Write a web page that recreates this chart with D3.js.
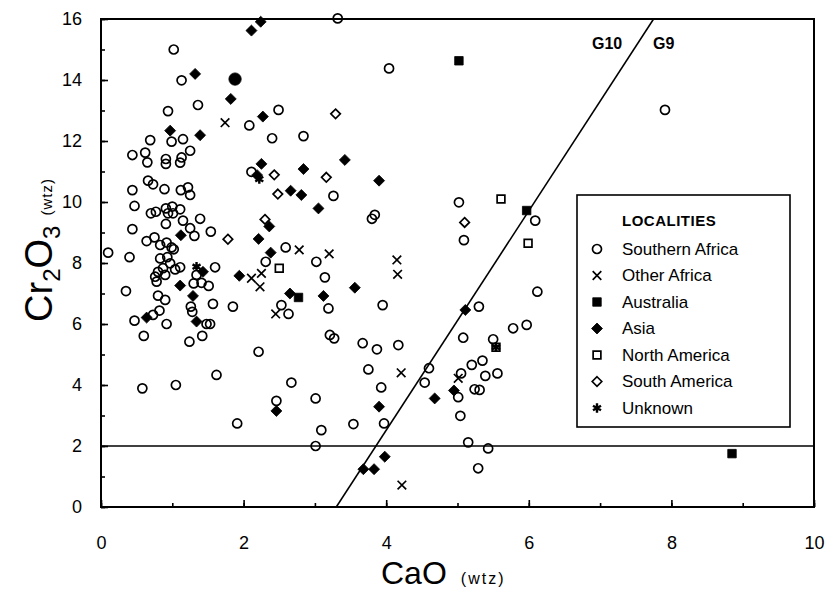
<!DOCTYPE html>
<html>
<head>
<meta charset="utf-8">
<script src="https://cdn.jsdelivr.net/npm/d3@7"></script>
<style>
  body { margin: 0; background: #fff; }
  text { font-family: "Liberation Sans", Arial, sans-serif; fill: #000; }
</style>
</head>
<body>
<svg id="chart" width="827" height="593"></svg>
<script>

/////////////////////
// Data (CaO wt%, Cr2O3 wt%)
/////////////////////

var southernAfrica = [
  [1.02,15.0],[1.13,13.99],[1.36,13.18],[0.94,12.98],[2.08,12.51],[0.69,12.03],[0.99,11.98],[1.15,12.06],
  [1.25,11.68],[0.44,11.54],[0.62,11.62],[0.65,11.30],[0.91,11.41],[0.91,11.25],[1.13,11.46],[1.11,11.29],
  [2.11,10.99],[0.66,10.70],[0.73,10.58],[0.44,10.39],[0.89,10.42],[1.12,10.39],[1.22,10.48],[1.25,10.23],
  [0.47,9.87],[0.70,9.63],[0.77,9.68],[0.91,9.79],[1.00,9.85],[1.11,9.76],[0.94,9.63],[1.01,9.63],
  [0.91,9.28],[1.15,9.39],[1.39,9.45],[0.44,9.11],[1.25,9.14],[1.31,8.89],[1.54,9.03],[0.64,8.72],
  [0.75,8.84],[0.83,8.59],[0.92,8.67],[0.99,8.51],[1.02,8.45],[0.10,8.34],[0.40,8.19],[0.83,8.15],
  [0.93,8.19],[0.97,7.99],[1.04,7.79],[1.11,7.86],[0.80,7.71],[0.76,7.55],[0.78,7.39],[0.90,7.61],
  [0.87,7.83],[1.34,7.61],[1.30,7.33],[1.41,7.35],[1.51,7.25],[1.60,7.86],[0.35,7.08],[0.80,6.93],
  [0.90,6.79],[1.57,6.66],[1.85,6.57],[1.26,6.57],[1.28,6.40],[0.82,6.44],[0.73,6.30],[0.47,6.11],
  [0.92,6.00],[1.48,6.00],[1.53,6.00],[0.60,5.61],[1.24,5.42],[1.42,5.61],[2.21,5.09],[1.62,4.33],
  [0.58,3.89],[1.05,4.00],[1.91,2.74],[3.32,16.02],[4.04,14.38],[2.49,13.02],[2.40,12.09],[2.84,12.16],
  [3.26,10.20],[3.80,9.45],[3.84,9.58],[2.59,8.51],[2.31,8.04],[3.02,8.04],[3.14,7.53],[2.53,6.62],
  [2.63,6.33],[3.19,6.51],[3.95,6.62],[3.21,5.64],[3.27,5.53],[3.67,5.37],[3.87,5.17],[4.17,5.31],
  [3.75,4.51],[2.67,4.08],[3.93,3.92],[2.46,3.48],[3.01,3.56],[3.09,2.52],[3.54,2.72],[3.97,2.74],
  [3.01,2.00],[4.60,4.55],[4.54,4.08],[5.08,5.55],[5.78,5.86],[5.97,5.97],[5.50,5.50],[5.20,4.66],
  [5.35,4.80],[5.05,4.38],[5.39,4.30],[5.56,4.38],[5.01,3.60],[5.24,3.86],[5.31,3.84],[5.04,2.99],
  [5.15,2.12],[5.43,1.92],[5.29,1.27],[5.02,9.99],[6.09,9.39],[5.09,8.75],[6.12,7.06],[5.30,6.57],
  [7.91,13.02]
];

var otherAfrica = [
  [1.74,12.6],[2.11,7.50],[2.25,7.66],[2.23,7.22],[2.78,8.43],[3.20,8.30],[4.15,8.10],[4.16,7.63],
  [2.45,6.33],[4.21,4.40],[4.22,0.72],[5.01,4.22]
];

var australia = [[5.02,14.63],[5.97,9.72],[2.77,6.87],[8.85,1.75]];

var asia = [
  [2.11,15.62],[2.24,15.91],[1.32,14.20],[1.82,13.38],[2.27,12.80],[0.97,12.34],[1.39,12.19],[2.25,11.25],
  [2.19,10.88],[1.12,8.91],[2.21,8.79],[1.43,7.71],[1.94,7.58],[1.11,7.26],[1.29,6.92],[0.64,6.21],
  [1.34,6.08],[3.42,11.38],[2.84,11.08],[3.90,10.70],[2.66,10.37],[2.81,10.23],[3.05,9.79],[2.36,9.20],
  [2.38,8.34],[3.56,7.19],[2.65,7.00],[3.12,6.92],[2.46,3.15],[3.90,3.29],[3.98,1.65],[3.68,1.24],
  [3.83,1.24],[4.68,3.56],[4.95,3.82],[5.11,6.46]
];

var northAmerica = [[2.50,7.83],[5.61,10.10],[5.99,8.65],[5.54,5.24]];

var southAmerica = [[1.78,8.78],[3.29,12.89],[2.43,10.89],[3.16,10.81],[2.48,10.26],[2.30,9.43],[5.10,9.33]];

var unknown = [[2.22,10.75],[1.34,7.88],[5.54,5.24]];

var filledDots = [[1.88,14.03]];

var xTicks = [0, 2, 4, 6, 8, 10];
var yTicks = [0, 2, 4, 6, 8, 10, 12, 14, 16];

// G10 / G9 boundary and the 2 wt% Cr2O3 line
var gLine = [[3.3, 0], [7.75, 16]];
var gLabels = ["G10", "G9"];
var crLimit = 2;

var legendLabels = ["Southern Africa", "Other Africa", "Australia", "Asia",
                    "North America", "South America", "Unknown"];

/////////////////////
// Setup
/////////////////////

var svg = d3.select("#chart");

var x = d3.scaleLinear().domain([0, 10]).range([101, 814]);
var y = d3.scaleLinear().domain([0, 16]).range([507, 19]);

// Marker shapes
var shapes = {
  circle:    {d: d3.symbol(d3.symbolCircle, 64)(),   fill: "none", sw: 1.7},
  cross:     {d: d3.symbol(d3.symbolX, 50)(),        fill: "none", sw: 1.7},
  squareF:   {d: d3.symbol(d3.symbolSquare, 72)(),   fill: "#000", sw: 0.8},
  diamondF:  {d: d3.symbol(d3.symbolDiamond2, 77)(), fill: "#000", sw: 0.8},
  squareH:   {d: d3.symbol(d3.symbolSquare, 60)(),   fill: "none", sw: 1.7},
  diamondH:  {d: d3.symbol(d3.symbolDiamond2, 58)(), fill: "none", sw: 1.7},
  asterisk:  {d: d3.symbol(d3.symbolAsterisk, 60)(), fill: "none", sw: 2.4},
  dot:       {d: d3.symbol(d3.symbolCircle, 120)(),  fill: "#000", sw: 0.8}
};

var series = [
  {data: southernAfrica, shape: "circle"},
  {data: otherAfrica,    shape: "cross"},
  {data: australia,      shape: "squareF"},
  {data: asia,           shape: "diamondF"},
  {data: northAmerica,   shape: "squareH"},
  {data: southAmerica,   shape: "diamondH"},
  {data: unknown,        shape: "asterisk"},
  {data: filledDots,     shape: "dot"}
];

/////////////////////
// Axes
/////////////////////

var xMinor = d3.axisBottom(x).ticks(10).tickSize(-4).tickFormat("");
var xMajor = d3.axisBottom(x).tickValues(xTicks).tickSize(-7).tickPadding(29).tickFormat(d3.format("d"));
var yMinor = d3.axisLeft(y).ticks(16).tickSize(-4).tickFormat("");
var yMajor = d3.axisLeft(y).tickValues(yTicks).tickSize(-7).tickPadding(19).tickFormat(d3.format("d"));

[xMinor, xMajor].forEach(function(ax) {
  svg.append("g").attr("transform", "translate(0,507)").call(ax);
});
[yMinor, yMajor].forEach(function(ax) {
  svg.append("g").attr("transform", "translate(101,0)").call(ax);
});

svg.selectAll(".domain").remove();
svg.selectAll(".tick line").attr("stroke", "#000").attr("stroke-width", 1.6);
svg.selectAll(".tick text").style("font-size", "18px").attr("fill", "#000");

// Frame
svg.append("rect")
    .attr("x", x(0)).attr("y", y(16))
    .attr("width", x(10) - x(0)).attr("height", y(0) - y(16))
    .attr("fill", "none").attr("stroke", "#000").attr("stroke-width", 2);

// Axis titles
var xt = svg.append("text").attr("x", 381).attr("y", 584);
xt.append("tspan").style("font-size", "32px").text("CaO");
xt.append("tspan").attr("dx", 14).style("font-size", "16px").style("letter-spacing", "2px").text("(wtz)");

var yt = svg.append("text")
    .attr("transform", "translate(52,250) rotate(-90)")
    .attr("text-anchor", "middle");
yt.append("tspan").style("font-size", "38px").text("Cr");
yt.append("tspan").style("font-size", "24px").attr("dy", 8).text("2");
yt.append("tspan").style("font-size", "38px").attr("dy", -8).text("O");
yt.append("tspan").style("font-size", "24px").attr("dy", 8).text("3");
yt.append("tspan").style("font-size", "15px").attr("dy", -8).attr("dx", 10).style("letter-spacing", "1px").text("(wtz)");

/////////////////////
// Reference lines
/////////////////////

svg.append("clipPath").attr("id", "plot-clip")
  .append("rect")
    .attr("x", x(0)).attr("y", y(16))
    .attr("width", x(10) - x(0)).attr("height", y(0) - y(16));

svg.append("line")
    .attr("x1", x(0)).attr("x2", x(10))
    .attr("y1", y(crLimit)).attr("y2", y(crLimit))
    .attr("stroke", "#000").attr("stroke-width", 1.6);

svg.append("path")
    .datum(gLine)
    .attr("d", d3.line().x(function(d) { return x(d[0]); }).y(function(d) { return y(d[1]); }))
    .attr("clip-path", "url(#plot-clip)")
    .attr("stroke", "#000").attr("stroke-width", 1.6).attr("fill", "none");

svg.append("text").attr("x", 592).attr("y", 49)
    .style("font-size", "16px").style("font-weight", "bold").text(gLabels[0]);
svg.append("text").attr("x", 653).attr("y", 49)
    .style("font-size", "16px").style("font-weight", "bold").text(gLabels[1]);

/////////////////////
// Points
/////////////////////

series.forEach(function(s) {
  var sh = shapes[s.shape];
  svg.append("g").selectAll("path")
      .data(s.data)
    .enter().append("path")
      .attr("transform", function(d) { return "translate(" + x(d[0]) + "," + y(d[1]) + ")"; })
      .attr("d", sh.d)
      .attr("fill", sh.fill)
      .attr("stroke", "#000")
      .attr("stroke-width", sh.sw);
});

/////////////////////
// Legend
/////////////////////

var legend = svg.append("g").attr("transform", "translate(577,195)");

legend.append("rect")
    .attr("width", 213).attr("height", 232)
    .attr("fill", "#fff").attr("stroke", "#000").attr("stroke-width", 1.6);

legend.append("text")
    .attr("x", 45).attr("y", 31)
    .style("font-size", "15px").style("font-weight", "bold").style("letter-spacing", "0.5px")
    .text("LOCALITIES");

var items = legend.selectAll(".item")
    .data(legendLabels)
  .enter().append("g")
    .attr("class", "item")
    .attr("transform", function(d, i) { return "translate(0," + (54 + i * 26.5) + ")"; });

items.append("path")
    .attr("transform", "translate(20,0)")
    .attr("d", function(d, i) { return shapes[series[i].shape].d; })
    .attr("fill", function(d, i) { return shapes[series[i].shape].fill; })
    .attr("stroke", "#000")
    .attr("stroke-width", function(d, i) { return shapes[series[i].shape].sw; });

items.append("text")
    .attr("x", 45).attr("dy", "0.35em")
    .style("font-size", "17px")
    .text(function(d) { return d; });

</script>
</body>
</html>
